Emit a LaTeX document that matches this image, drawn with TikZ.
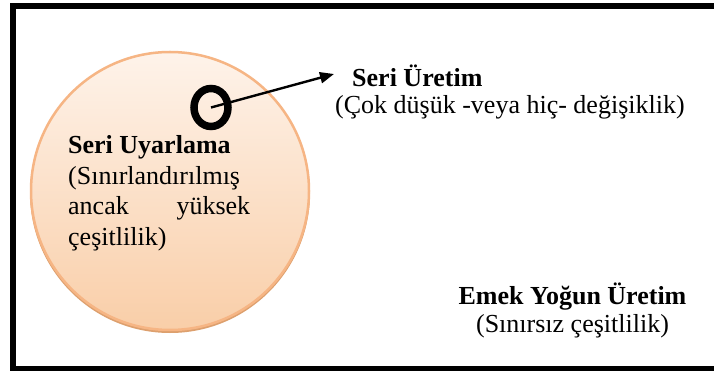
\documentclass[tikz,border=0pt]{standalone}
\usepackage{fontspec}
\setmainfont{Liberation Serif}
\usetikzlibrary{arrows.meta,shapes.geometric}
\definecolor{peachtop}{HTML}{FEF3EA}
\definecolor{peachbot}{HTML}{F9CEA8}
\definecolor{peachedge}{HTML}{F6B584}
\definecolor{peachshadow}{HTML}{DDA06E}
\tikzset{
  txt/.style={inner sep=0pt, anchor=base west, font=\fontsize{26}{30.5}\selectfont},
  txtc/.style={inner sep=0pt, anchor=base, font=\fontsize{26}{30.5}\selectfont},
  ringnode/.style={ellipse, draw=black, line width=7.5pt, minimum width=34pt, minimum height=38pt, inner sep=0pt},
  arrowline/.style={line width=2.4pt, -{Triangle[length=14pt,width=11pt]}},
  framestyle/.style={line width=6pt, draw=black}
}
\begin{document}
\begin{tikzpicture}[x=1pt,y=-1pt]
\useasboundingbox (0,0) rectangle (714,371);
\clip (0,0) rectangle (714,371);
\fill[white] (0,0) rectangle (714,371);
% frame (open on the right)
\draw[framestyle] (730,6) -- (13,6) -- (13,368.5) -- (730,368.5);
% big circle
\fill[peachshadow] (170,193) circle[radius=140];
\shade[top color=peachtop, bottom color=peachbot, draw=peachedge, line width=2.5pt] (170,191) circle[radius=139];
% ring
\node[ringnode] (ring) at (211,107.5) {};
% texts
\node[txt] (su1) at (68,154) {\bfseries Seri Uyarlama};
\node[txt] (su2) at (68,185) {(Sınırlandırılmış};
\node[txt] (su3) at (68,215) {\makebox[182pt][s]{ancak\hfill yüksek}};
\node[txt] (su4) at (68,245) {çeşitlilik)};
\node[txt] (sr1) at (352,87) {\bfseries Seri Üretim};
\node[txt] (sr2) at (335,114) {(Çok düşük -veya hiç- değişiklik)};
\node[txtc] (em1) at (572.5,304) {\bfseries Emek Yoğun Üretim};
\node[txtc] (em2) at (572.5,332) {(Sınırsız çeşitlilik)};
% arrow
\coordinate (tip) at (334,74);
\draw[arrowline] (ring.center) -- (tip);
\end{tikzpicture}
\end{document}
